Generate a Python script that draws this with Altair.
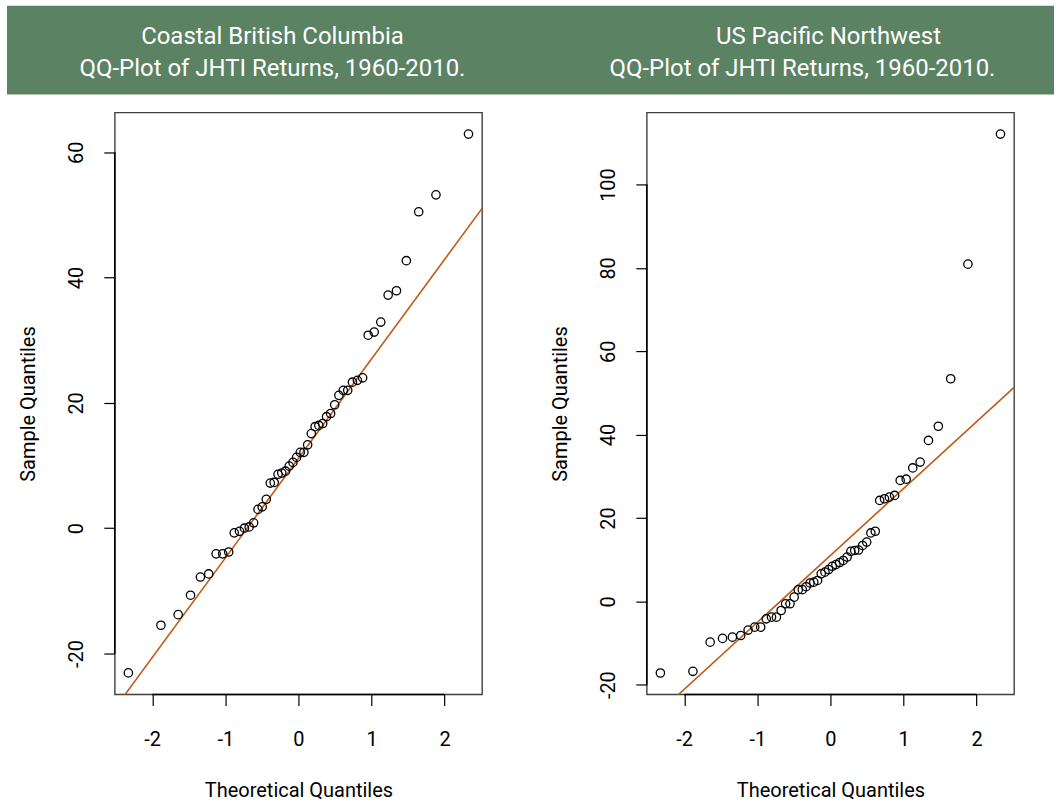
import altair as alt
import pandas as pd

# ---- data ----
theoretical = [-2.326, -1.881, -1.645, -1.476, -1.341, -1.227, -1.126, -1.036, -0.954, -0.878,
               -0.806, -0.739, -0.674, -0.613, -0.553, -0.496, -0.440, -0.385, -0.332, -0.279,
               -0.228, -0.176, -0.126, -0.075, -0.025, 0.025, 0.075, 0.126, 0.176, 0.228,
               0.279, 0.332, 0.385, 0.440, 0.496, 0.553, 0.613, 0.674, 0.739, 0.806,
               0.878, 0.954, 1.036, 1.126, 1.227, 1.341, 1.476, 1.645, 1.881, 2.326]

bc_sample = [-23.1, -15.5, -13.8, -10.7, -7.8, -7.3, -4.1, -4.1, -3.8, -0.75,
             -0.5, 0.0, 0.2, 0.85, 3.0, 3.4, 4.6, 7.2, 7.3, 8.6,
             8.8, 9.1, 9.9, 10.5, 11.3, 12.1, 12.1, 13.3, 15.1, 16.2,
             16.4, 16.7, 17.8, 18.3, 19.7, 21.2, 22.0, 22.0, 23.3, 23.6,
             24.0, 30.8, 31.3, 32.9, 37.2, 37.9, 42.7, 50.5, 53.2, 62.9]

us_sample = [-17.2, -16.8, -9.8, -8.9, -8.6, -8.2, -6.9, -6.2, -6.2, -4.2,
             -3.8, -3.8, -2.2, -0.6, -0.6, 1.0, 2.8, 2.8, 3.5, 4.4,
             4.6, 5.0, 6.6, 7.0, 7.6, 8.4, 8.8, 9.3, 9.8, 10.6,
             12.0, 12.2, 12.3, 13.4, 14.2, 16.4, 16.8, 24.2, 24.6, 25.0,
             25.4, 29.0, 29.3, 32.0, 33.4, 38.6, 42.0, 53.4, 80.9, 112.1]

# reference lines (intercept, slope) as drawn
bc_line = [11.13, 15.89]
us_line = [11.0, 16.06]

x_ticks = [-2, -1, 0, 1, 2]
bc_y_ticks = [-20, 0, 20, 40, 60]
us_y_ticks = [-20, 0, 20, 40, 60, 80, 100]

x_domain = [-2.512, 2.512]
bc_y_domain = [-26.54, 66.34]
us_y_domain = [-22.35, 117.27]

bc_titles = ["Coastal British Columbia", "QQ-Plot of JHTI Returns, 1960-2010."]
us_titles = ["US Pacific Northwest", "QQ-Plot of JHTI Returns, 1960-2010."]

x_title = "Theoretical Quantiles"
y_title = "Sample Quantiles"

# ---- styling ----
FONT = "Roboto, Liberation Sans, sans-serif"
GREEN = "#5b8262"
LINE_COLOR = "#bf5a14"
W, H = 368, 583
GAP = 165  # distance between the two plot areas


def panel(sample, y_domain, y_ticks, line, titles, title_x, banner_x=None):
    df = pd.DataFrame({"q": theoretical, "s": sample})
    xs = alt.Scale(domain=x_domain, nice=False, zero=False)
    ys = alt.Scale(domain=y_domain, nice=False, zero=False)

    x_axis = alt.Axis(values=x_ticks, title=x_title, grid=False, domain=False,
                      tickSize=11, tickColor="black", tickWidth=1.2,
                      labelFont=FONT, labelFontSize=20, labelColor="black",
                      labelPadding=24, labelExpr="'' + datum.value",
                      titleFont=FONT, titleFontSize=20, titleFontWeight="normal",
                      titleColor="black", titleY=96, titleBaseline="middle")
    y_axis = alt.Axis(values=y_ticks, title=y_title, grid=False, domain=False,
                      tickSize=11, tickColor="black", tickWidth=1.2,
                      labelFont=FONT, labelFontSize=20, labelColor="black",
                      labelAngle=270, labelAlign="center", labelBaseline="alphabetic",
                      labelPadding=21, labelExpr="'' + datum.value",
                      titleFont=FONT, titleFontSize=20, titleFontWeight="normal",
                      titleColor="black", titleAngle=270, titleX=-86, titleBaseline="middle")

    pts = alt.Chart(df).mark_point(shape="circle", filled=False, size=70,
                                   strokeWidth=1.3, color="black", opacity=1).encode(
        x=alt.X("q:Q", scale=xs, axis=x_axis),
        y=alt.Y("s:Q", scale=ys, axis=y_axis),
    )

    ldf = pd.DataFrame({"q": x_domain,
                        "s": [line[0] + line[1] * v for v in x_domain]})
    ln = alt.Chart(ldf).mark_line(color=LINE_COLOR, strokeWidth=1.6, clip=True).encode(
        x=alt.X("q:Q", scale=xs), y=alt.Y("s:Q", scale=ys))

    one = pd.DataFrame({"k": [0]})
    xrule = alt.Chart(one).mark_rule(color="black", strokeWidth=1.6).encode(
        x=alt.datum(x_ticks[0], scale=xs), x2=alt.datum(x_ticks[-1]), y=alt.value(H))
    yrule = alt.Chart(one).mark_rule(color="black", strokeWidth=1.6).encode(
        y=alt.datum(y_ticks[0], scale=ys), y2=alt.datum(y_ticks[-1]), x=alt.value(0))

    t1 = alt.Chart(one).mark_text(text=titles[0], font=FONT, fontSize=24, color="white",
                                  align="center", baseline="alphabetic").encode(
        x=alt.value(title_x[0]), y=alt.value(-69))
    t2 = alt.Chart(one).mark_text(text=titles[1], font=FONT, fontSize=24, color="white",
                                  align="center", baseline="alphabetic").encode(
        x=alt.value(title_x[1]), y=alt.value(-37))

    layers = []
    if banner_x is not None:
        layers.append(alt.Chart(one).mark_rect(color=GREEN, opacity=1).encode(
            x=alt.value(banner_x[0]), x2=alt.value(banner_x[1]),
            y=alt.value(-107), y2=alt.value(-18)))
    layers += [t1, t2, ln, pts, xrule, yrule]
    return alt.layer(*layers).properties(width=W, height=H)


left = panel(bc_sample, bc_y_domain, bc_y_ticks, bc_line, bc_titles, [158, 158],
             banner_x=[-108, 941])
right = panel(us_sample, us_y_domain, us_y_ticks, us_line, us_titles, [182, 156])

chart = alt.hconcat(left, right, spacing=GAP, bounds="flush").configure(
    padding={"left": 6, "top": 4, "right": 5, "bottom": 3},
    background="white",
).configure_view(stroke="#404040", strokeWidth=1.4)

chart.save("out.html", embed_options={"renderer": "svg", "actions": False})
